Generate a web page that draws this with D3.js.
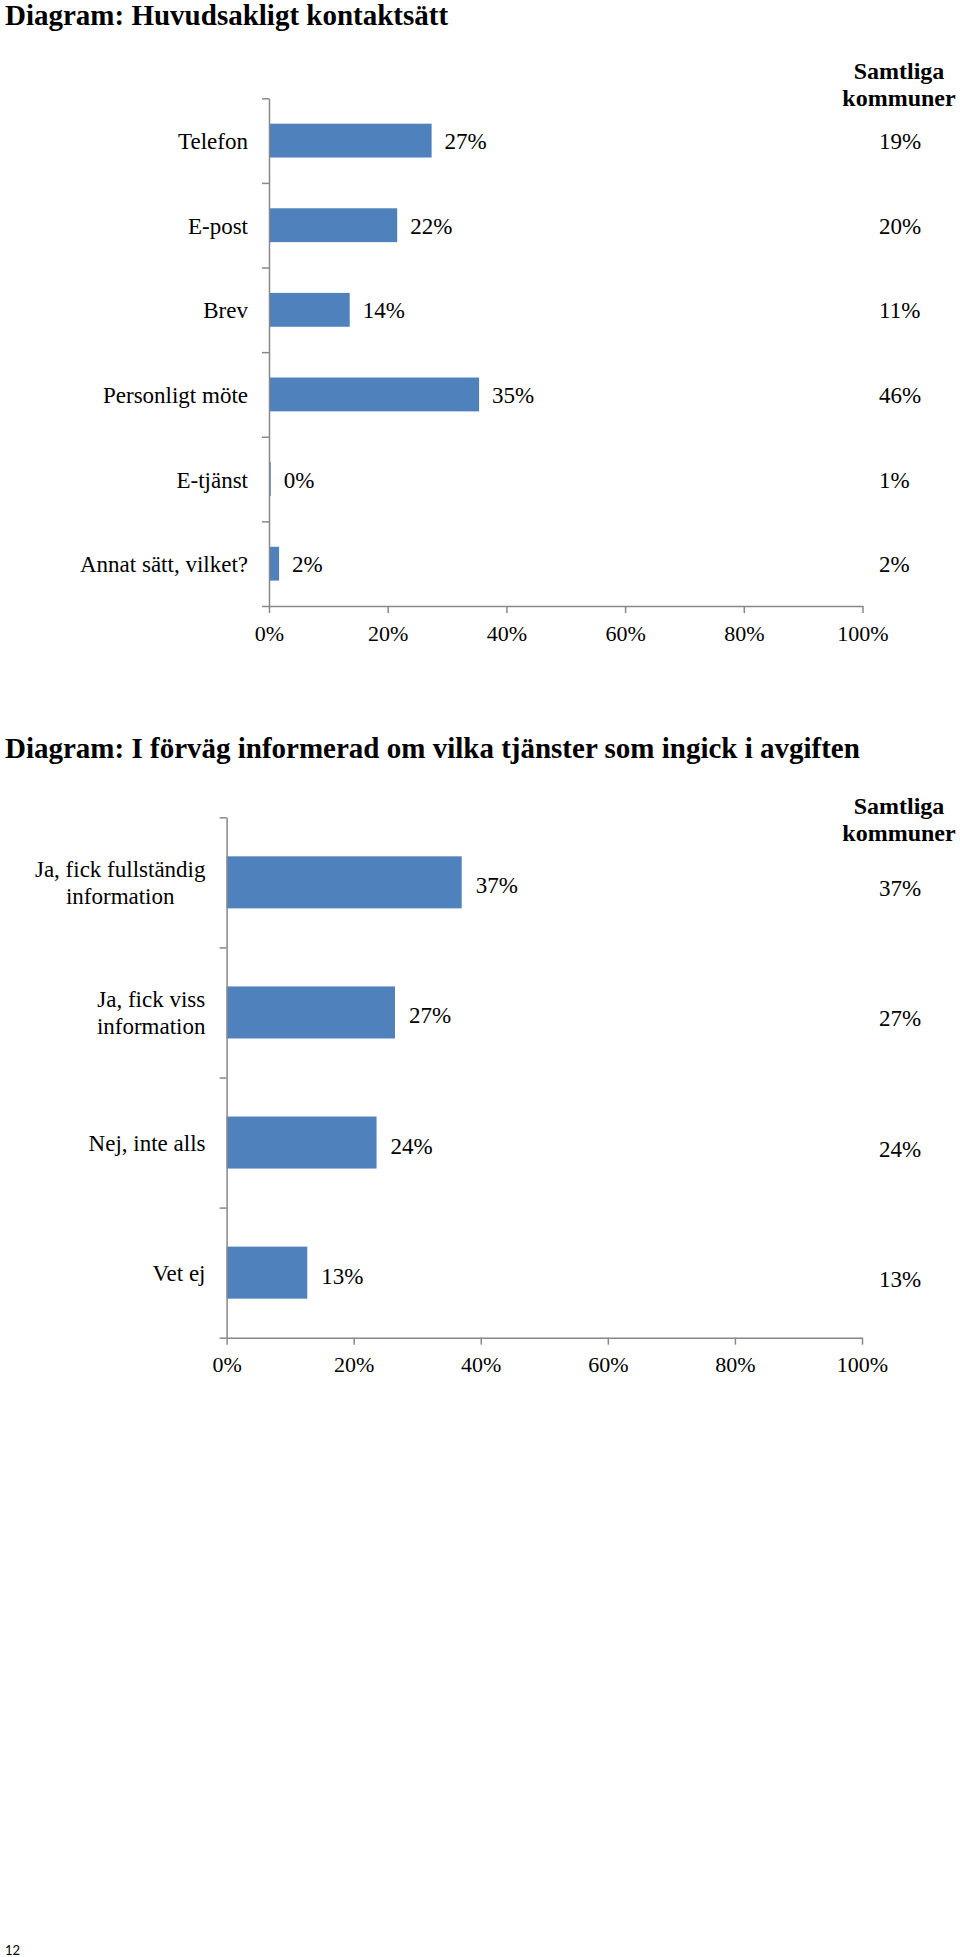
<!DOCTYPE html>
<html>
<head>
<meta charset="utf-8">
<script src="https://cdn.jsdelivr.net/npm/d3@7"></script>
<style>
  html, body { margin: 0; padding: 0; background: #fff; }
  svg { display: block; }
  text { font-family: "Liberation Serif", "Times New Roman", serif; fill: #000; }
</style>
</head>
<body>
<svg id="page" width="960" height="1957"></svg>
<script>
// ---- Data ----
const title1 = "Diagram: Huvudsakligt kontaktsätt";
const categories1 = ["Telefon", "E-post", "Brev", "Personligt möte", "E-tjänst", "Annat sätt, vilket?"];
const values1 = [27.4, 21.6, 13.6, 35.4, 0.3, 1.7];
const allMunicipalities1 = [19, 20, 11, 46, 1, 2];

const title2 = "Diagram: I förväg informerad om vilka tjänster som ingick i avgiften";
const categories2 = [["Ja, fick fullständig", "information"], ["Ja, fick viss", "information"], ["Nej, inte alls"], ["Vet ej"]];
const values2 = [37.0, 26.5, 23.6, 12.7];
const allMunicipalities2 = [37, 27, 24, 13];

const xTicks = [0, 20, 40, 60, 80, 100];
const sideHeader = ["Samtliga", "kommuner"];
const pageNumber = "12";

// ---- Styles ----
const BAR = "#4F81BD";
const AXIS = "#888888";

const svg = d3.select("#page");

function drawChart(cfg) {
  const g = svg.append("g");
  const n = cfg.categories.length;
  const x = d3.scaleLinear().domain([0, 100]).range([cfg.x0, cfg.x1]);
  const y = d3.scaleBand().domain(d3.range(n)).range([cfg.y0, cfg.y1])
    .paddingInner(0.6).paddingOuter(0.3);
  const boundary = d3.scaleLinear().domain([0, n]).range([cfg.y0, cfg.y1]);

  // title
  g.append("text").attr("x", 5).attr("y", cfg.titleY)
    .style("font-size", "29px").style("font-weight", "bold")
    .text(cfg.title);

  // side header
  sideHeader.forEach((t, i) => {
    g.append("text").attr("x", 899).attr("y", cfg.headY + i * 27)
      .attr("text-anchor", "middle")
      .style("font-size", "24px").style("font-weight", "bold")
      .text(t);
  });

  // bars
  g.selectAll("rect.bar").data(cfg.values).enter().append("rect")
    .attr("class", "bar")
    .attr("x", x(0))
    .attr("y", (d, i) => y(i))
    .attr("width", d => x(d) - x(0))
    .attr("height", y.bandwidth())
    .attr("fill", BAR);

  // x axis
  const xa = g.append("g").attr("transform", `translate(0,${cfg.y1})`)
    .call(d3.axisBottom(x).tickValues(xTicks).tickFormat(d => d + "%")
      .tickSize(7).tickSizeOuter(0).tickPadding(12));
  xa.select(".domain").attr("stroke", AXIS).attr("stroke-width", 1.5);
  xa.selectAll(".tick line").attr("stroke", AXIS).attr("stroke-width", 1.5);
  xa.selectAll(".tick text")
    .style("font-family", "'Liberation Serif', serif")
    .style("font-size", "22px").attr("fill", "#000");

  // y axis (tick marks at category boundaries)
  const ya = g.append("g").attr("transform", `translate(${cfg.x0},0)`)
    .call(d3.axisLeft(boundary).tickValues(d3.range(n + 1)).tickFormat("")
      .tickSize(7).tickSizeOuter(0));
  ya.select(".domain").attr("stroke", AXIS).attr("stroke-width", 1.5);
  ya.selectAll(".tick line").attr("stroke", AXIS).attr("stroke-width", 1.5);

  // category labels
  cfg.categories.forEach((lines, i) => {
    const arr = Array.isArray(lines) ? lines : [lines];
    const cy = y(i) + y.bandwidth() / 2;
    const lh = 27;
    const t = g.append("text").style("font-size", "23px").attr("text-anchor", "middle");
    const spans = arr.map((s, k) => t.append("tspan").text(s));
    const widths = spans.map(s => s.node().getComputedTextLength());
    const maxW = d3.max(widths);
    const cx = cfg.labelRight - maxW / 2;
    spans.forEach((s, k) => {
      s.attr("x", cx).attr("y", cy + 8.5 + (k - (arr.length - 1) / 2) * lh);
    });
  });

  // value labels
  g.selectAll("text.val").data(cfg.values).enter().append("text")
    .attr("class", "val")
    .attr("x", d => x(d) + cfg.gap)
    .attr("y", (d, i) => y(i) + y.bandwidth() / 2 + cfg.valDy)
    .style("font-size", "23px")
    .text(d => Math.round(d) + "%");

  // all municipalities column
  g.selectAll("text.all").data(cfg.all).enter().append("text")
    .attr("class", "all")
    .attr("x", 879)
    .attr("y", (d, i) => y(i) + y.bandwidth() / 2 + cfg.allDy)
    .style("font-size", "23px")
    .text(d => d + "%");
}

drawChart({
  title: title1, titleY: 24.5, headY: 78.5,
  categories: categories1, values: values1, all: allMunicipalities1,
  x0: 269, x1: 862.5, y0: 98.3, y1: 606,
  labelRight: 248, gap: 13, valDy: 8.5, allDy: 8.5
});

drawChart({
  title: title2, titleY: 757.5, headY: 813.5,
  categories: categories2, values: values2, all: allMunicipalities2,
  x0: 226.6, x1: 862, y0: 817.3, y1: 1337.7,
  labelRight: 205.5, gap: 14, valDy: 11, allDy: 14
});

svg.append("text").attr("x", 5).attr("y", 1955)
  .style("font-family", "Lato, 'Open Sans', sans-serif")
  .style("font-size", "13px")
  .text(pageNumber);
</script>
</body>
</html>
